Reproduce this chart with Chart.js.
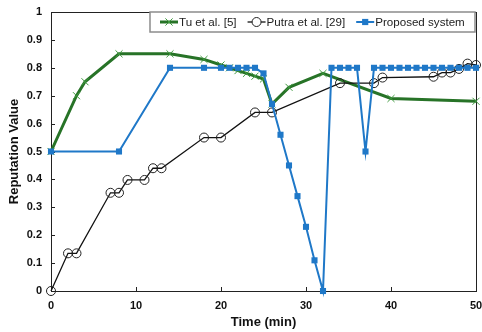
<!DOCTYPE html>
<html>
<head>
<meta charset="utf-8">
<script src="https://cdn.jsdelivr.net/npm/chart.js@4"></script>
<style>
  html, body { margin: 0; padding: 0; background: #fff; }
  canvas { display: block; }
</style>
</head>
<body>
<canvas id="repChart" width="482" height="332"></canvas>
<script>
// Series data (time in minutes, reputation value)
const tuTime = [0, 3, 4, 8, 14, 18, 20, 21, 22, 23, 24, 25, 26, 28, 32, 40, 50];
const tuValue = [0.5, 0.7, 0.75, 0.85, 0.85, 0.83, 0.81, 0.8, 0.79, 0.78, 0.77, 0.76, 0.67, 0.73, 0.78, 0.69, 0.68];

const putraTime = [0, 2, 3, 7, 8, 9, 11, 12, 13, 18, 20, 24, 26, 34, 38, 39, 45, 46, 47, 48, 49, 50];
const putraValue = [0, 0.135, 0.135, 0.352, 0.352, 0.398, 0.398, 0.44, 0.44, 0.55, 0.55, 0.64, 0.64, 0.745, 0.745, 0.765, 0.768, 0.783, 0.783, 0.796, 0.815, 0.81];

const propTime = [0, 8, 14, 18, 20, 21, 22, 23, 24, 25, 26, 27, 28, 29, 30, 31, 32, 33, 34, 35, 36, 37,
  38, 39, 40, 41, 42, 43, 44, 45, 46, 47, 48, 49, 50];
const propValue = [0.5, 0.5, 0.8, 0.8, 0.8, 0.8, 0.8, 0.8, 0.8, 0.78, 0.67, 0.56, 0.45, 0.34, 0.23, 0.11, 0, 0.8, 0.8, 0.8, 0.8, 0.5,
  0.8, 0.8, 0.8, 0.8, 0.8, 0.8, 0.8, 0.8, 0.8, 0.8, 0.8, 0.8, 0.8];

const seriesNames = ['Tu et al. [5]', 'Putra et al. [29]', 'Proposed system'];
const xTicks = [0, 10, 20, 30, 40, 50];
const yTicks = ['0', '0.1', '0.2', '0.3', '0.4', '0.5', '0.6', '0.7', '0.8', '0.9', '1'];

const toPoints = (xs, ys) => xs.map((x, i) => ({ x: x, y: ys[i] }));

const FONT = "'Liberation Sans', Arial, sans-serif";

// Frame + inward tick marks
const framePlugin = {
  id: 'frame',
  beforeDatasetsDraw(chart) {
    const { ctx, chartArea: a, scales } = chart;
    ctx.save();
    ctx.strokeStyle = '#222';
    ctx.lineWidth = 1;
    ctx.strokeRect(a.left + 0.5, a.top + 0.5, a.right - a.left, a.bottom - a.top);
    ctx.beginPath();
    scales.y.ticks.forEach(t => {
      const py = Math.round(scales.y.getPixelForValue(t.value)) + 0.5;
      ctx.moveTo(a.left, py);
      ctx.lineTo(a.left + 4, py);
    });
    scales.x.ticks.forEach(t => {
      const px = Math.round(scales.x.getPixelForValue(t.value)) + 0.5;
      ctx.moveTo(px, a.bottom);
      ctx.lineTo(px, a.bottom - 4);
    });
    ctx.stroke();
    ctx.restore();
  }
};

// Excel-like legend box with line + marker samples
function drawMarker(ctx, style, x, y, r, ds) {
  ctx.beginPath();
  if (style === 'crossRot') {
    const d = r * 0.72;
    ctx.moveTo(x - d, y - d); ctx.lineTo(x + d, y + d);
    ctx.moveTo(x - d, y + d); ctx.lineTo(x + d, y - d);
    ctx.strokeStyle = ds.pointBorderColor;
    ctx.lineWidth = ds.pointBorderWidth;
    ctx.stroke();
  } else if (style === 'circle') {
    ctx.arc(x, y, r, 0, Math.PI * 2);
    ctx.fillStyle = '#fff';
    ctx.fill();
    ctx.strokeStyle = ds.pointBorderColor;
    ctx.lineWidth = ds.pointBorderWidth;
    ctx.stroke();
  } else {
    const s = r * 0.72;
    ctx.fillStyle = ds.pointBackgroundColor;
    ctx.fillRect(x - s, y - s, s * 2, s * 2);
  }
}

const legendPlugin = {
  id: 'boxLegend',
  afterDraw(chart) {
    const { ctx } = chart;
    const left = 150, top = 12, right = 475, bottom = 32;
    const cy = (top + bottom) / 2;
    ctx.save();
    ctx.fillStyle = '#fff';
    ctx.fillRect(left, top, right - left, bottom - top);
    ctx.strokeStyle = '#8c8c8c';
    ctx.lineWidth = 1.5;
    ctx.strokeRect(left, top, right - left, bottom - top);
    ctx.font = '11.6px ' + FONT;
    ctx.textBaseline = 'middle';
    let x = 160;
    chart.data.datasets.forEach(ds => {
      ctx.beginPath();
      ctx.moveTo(x, cy);
      ctx.lineTo(x + 18, cy);
      ctx.strokeStyle = ds.borderColor;
      ctx.lineWidth = ds.borderWidth;
      ctx.stroke();
      drawMarker(ctx, ds.pointStyle, x + 9, cy, ds.pointRadius, ds);
      ctx.fillStyle = '#222';
      ctx.fillText(ds.label, x + 19, cy + 0.5);
      x += 19 + ctx.measureText(ds.label).width + 11;
    });
    ctx.restore();
  }
};

const chart = new Chart(document.getElementById('repChart'), {
  type: 'line',
  data: {
    datasets: [
      {
        label: seriesNames[0],
        data: toPoints(tuTime, tuValue),
        borderColor: '#277327',
        borderWidth: 3,
        pointStyle: 'crossRot',
        pointRadius: 5,
        pointBorderColor: '#3f9a3f',
        pointBackgroundColor: '#3f9a3f',
        pointBorderWidth: 1,
        order: 3
      },
      {
        label: seriesNames[1],
        data: toPoints(putraTime, putraValue),
        borderColor: '#111',
        borderWidth: 1.3,
        pointStyle: 'circle',
        pointRadius: 4.5,
        pointBorderColor: '#222',
        pointBackgroundColor: 'rgba(0,0,0,0)',
        pointBorderWidth: 1,
        order: 2
      },
      {
        label: seriesNames[2],
        data: toPoints(propTime, propValue),
        borderColor: '#1f78c8',
        borderWidth: 2,
        pointStyle: 'rect',
        pointRadius: 4.3,
        pointBorderColor: '#1f78c8',
        pointBackgroundColor: '#1f78c8',
        pointBorderWidth: 0,
        order: 1
      }
    ]
  },
  options: {
    responsive: false,
    animation: false,
    devicePixelRatio: 1,
    clip: false,
    layout: { padding: { top: 12, right: 5, left: 0, bottom: 0 } },
    plugins: {
      legend: { display: false },
      tooltip: { enabled: false }
    },
    elements: { line: { tension: 0 } },
    scales: {
      x: {
        type: 'linear',
        min: 0,
        max: 50,
        afterBuildTicks: (scale) => { scale.ticks = xTicks.map(v => ({ value: v })); },
        afterFit: (scale) => { scale.height = 41; scale.paddingLeft = 0; scale.paddingRight = 0; },
        grid: { display: false, drawTicks: false },
        border: { display: false },
        ticks: {
          color: '#111',
          padding: 8,
          maxRotation: 0,
          font: { family: FONT, size: 11, weight: 'bold' }
        },
        title: {
          display: true,
          text: 'Time (min)',
          color: '#111',
          padding: { top: 0, bottom: 2 },
          font: { family: FONT, size: 13, weight: 'bold' }
        }
      },
      y: {
        min: 0,
        max: 1,
        afterBuildTicks: (scale) => { scale.ticks = yTicks.map(v => ({ value: parseFloat(v) })); },
        afterFit: (scale) => { scale.width = 51; scale.paddingTop = 0; scale.paddingBottom = 0; },
        grid: { display: false, drawTicks: false },
        border: { display: false },
        ticks: {
          color: '#111',
          padding: 9,
          callback: (v, i) => yTicks[i],
          font: { family: FONT, size: 11, weight: 'bold' }
        },
        title: {
          display: true,
          text: 'Reputation Value',
          color: '#111',
          padding: { top: 7, bottom: 0 },
          font: { family: FONT, size: 13, weight: 'bold' }
        }
      }
    }
  },
  plugins: [framePlugin, legendPlugin]
});
</script>
</body>
</html>
